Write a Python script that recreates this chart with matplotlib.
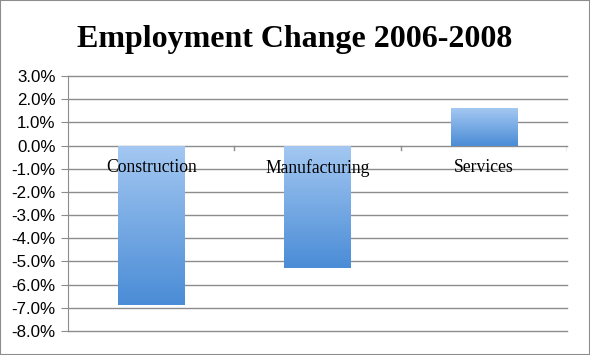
import numpy as np
import matplotlib.pyplot as plt
from matplotlib.patches import Rectangle
from matplotlib.colors import LinearSegmentedColormap

categories = ["Construction", "Manufacturing", "Services"]
changes = [-6.9, -5.3, 1.6]
yticks = [3, 2, 1, 0, -1, -2, -3, -4, -5, -6, -7, -8]

fig = plt.figure(figsize=(5.9, 3.55), dpi=100)
ax = fig.add_axes([68 / 590, 1 - 331 / 355, (567 - 68) / 590, (331 - 76) / 355])

grid_col = "#8c8c8c"
for v in yticks:
    ax.axhline(v, color=grid_col, linewidth=1.0, zorder=1, clip_on=False)

cmap = LinearSegmentedColormap.from_list("bar", ["#a4c8f2", "#4a8cd6"])
grad = np.linspace(0, 1, 256).reshape(-1, 1)
x = np.arange(len(categories))
width = 0.4
bars = ax.bar(x, changes, width=width, color="none", zorder=2)
for b in bars:
    x0, y0 = b.get_x(), b.get_y()
    w, h = b.get_width(), b.get_height()
    top, bottom = max(y0, y0 + h), min(y0, y0 + h)
    im = ax.imshow(grad, cmap=cmap, extent=[x0, x0 + w, bottom, top],
                   aspect="auto", origin="upper", zorder=2)
    im.set_clip_path(b)

ax.set_xlim(-0.5, 2.5)
ax.set_ylim(-8, 3)
ax.set_yticks(yticks)
ax.set_yticklabels([f"{v:.1f}%" for v in yticks], fontsize=12.2,
                   family="Liberation Sans")
ax.tick_params(axis="y", length=5, color=grid_col, pad=4)
ax.set_xticks([])
for s in ["top", "right", "bottom"]:
    ax.spines[s].set_visible(False)
ax.spines["left"].set_color(grid_col)

# small category separator ticks on the zero line
for xb in [0.5, 1.5, 2.5]:
    ax.plot([xb, xb], [0, -0.2], color=grid_col, linewidth=1, zorder=1)

for xi, name in zip(x, categories):
    ax.text(xi, -0.95, name, ha="center", va="center", fontsize=12.7,
            family="Liberation Serif", zorder=3)

fig.text(0.5, 1 - 40 / 355, "Employment Change 2006-2008", ha="center",
         va="center", fontsize=23, fontweight="bold", family="Liberation Serif")

fig.patches.append(Rectangle((0, 0), 1, 1, transform=fig.transFigure,
                             fill=False, edgecolor="#8c8c8c", linewidth=1.5))

fig.savefig("out.png", dpi=100)
